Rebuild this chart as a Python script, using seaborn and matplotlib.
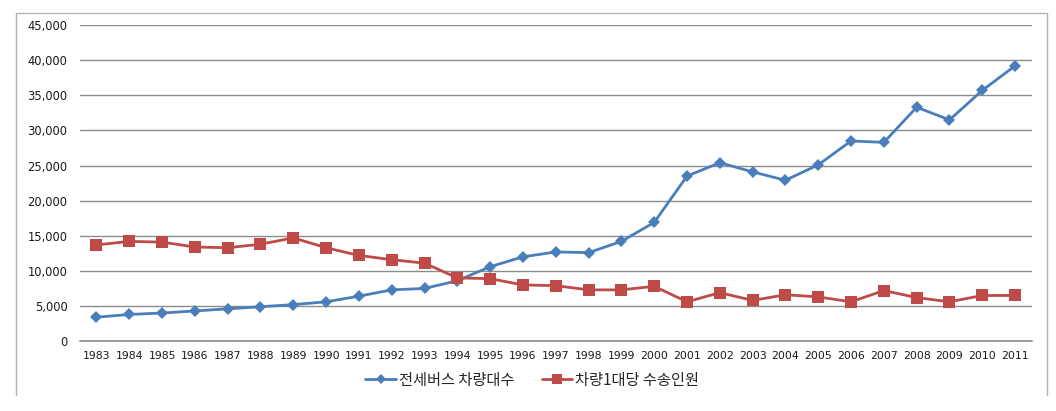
import matplotlib
matplotlib.use("Agg")
import matplotlib.pyplot as plt
from matplotlib.lines import Line2D
from matplotlib.ticker import FuncFormatter
import seaborn as sns
import pandas as pd
import numpy as np

years = [str(y) for y in range(1983, 2012)]
bus_count = [3400, 3800, 4000, 4300, 4600, 4900, 5200, 5600, 6400, 7300,
             7500, 8600, 10600, 12000, 12700, 12600, 14200, 16900, 23500, 25400,
             24100, 22900, 25100, 28500, 28300, 33300, 31500, 35700, 39200]
per_vehicle = [13700, 14200, 14100, 13400, 13300, 13800, 14700, 13300, 12200, 11600,
               11100, 9000, 8900, 8000, 7900, 7300, 7300, 7800, 5600, 6900,
               5800, 6600, 6300, 5600, 7200, 6200, 5600, 6500, 6500]
series_names = ["전세버스 차량대수", "차량1대당 수송인원"]

sns.set_theme(style="white")
plt.rcParams['font.family'] = ['Noto Sans CJK KR', 'DejaVu Sans']

df = pd.DataFrame({
    "x": list(range(len(years))) * 2,
    "value": bus_count + per_vehicle,
    "series": [series_names[0]] * len(years) + [series_names[1]] * len(years),
})

fig = plt.figure(figsize=(10.56, 4.11), dpi=100)
ax = fig.add_axes([0.0758, 0.170, 0.901, 0.769])

palette = {series_names[0]: "#4a7ebb", series_names[1]: "#be4b48"}
markers = {series_names[0]: "D", series_names[1]: "s"}
sns.lineplot(data=df, x="x", y="value", hue="series", style="series",
             palette=palette, markers=markers, dashes=False, linewidth=2.0,
             ax=ax, legend=False)
for line, (ms) in zip(ax.lines, [6, 8]):
    line.set_markersize(ms)
    line.set_markeredgewidth(0)

ax.set_xlim(-0.5, len(years) - 0.5)
ax.set_ylim(0, 45000)
ax.set_yticks(np.arange(0, 45001, 5000))
ax.yaxis.set_major_formatter(FuncFormatter(lambda v, p: f"{int(v):,}"))
ax.set_xticks(range(len(years)))
ax.set_xticklabels(years)
ax.tick_params(axis="both", length=0, colors="#1a1a1a")
ax.tick_params(axis="x", labelsize=7.8, pad=7)
ax.tick_params(axis="y", labelsize=8.3, pad=9)
for lab in ax.get_xticklabels() + ax.get_yticklabels():
    lab.set_family(['DejaVu Sans'])
ax.yaxis.grid(True, color="#8c8c8c", linewidth=1.0)
ax.xaxis.grid(False)
ax.set_axisbelow(True)
for s in ["top", "right", "left"]:
    ax.spines[s].set_visible(False)
ax.spines["bottom"].set_color("#8c8c8c")
ax.spines["bottom"].set_linewidth(1.2)
ax.set_xlabel("")
ax.set_ylabel("")

handles = [Line2D([], [], color="#4a7ebb", marker="D", markersize=5, lw=2.0, markeredgewidth=0),
           Line2D([], [], color="#be4b48", marker="s", markersize=7, lw=2.0, markeredgewidth=0)]
fig.legend(handles, series_names, loc="center", bbox_to_anchor=(0.504, 0.075),
           ncol=2, frameon=False, fontsize=11, handlelength=2.0, handletextpad=0.2,
           columnspacing=1.8)

# outer chart border (left, top, right)
bc = "#b4b4b4"
fig.add_artist(Line2D([16/1056, 16/1056], [1 - 395/411, 1 - 13/411], color=bc, lw=1, transform=fig.transFigure))
fig.add_artist(Line2D([16/1056, 1047/1056], [1 - 13/411, 1 - 13/411], color=bc, lw=1, transform=fig.transFigure))
fig.add_artist(Line2D([1047/1056, 1047/1056], [1 - 395/411, 1 - 13/411], color=bc, lw=1, transform=fig.transFigure))

fig.savefig("out.png", dpi=100)
